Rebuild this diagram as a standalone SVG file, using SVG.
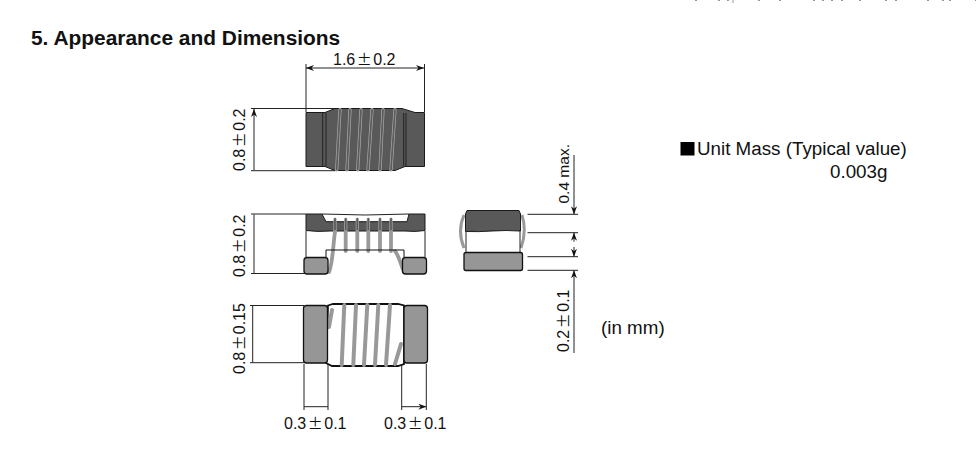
<svg xmlns="http://www.w3.org/2000/svg" width="976" height="461" viewBox="0 0 976 461">
<defs>
<marker id="ah" viewBox="0 0 8 6" refX="8" refY="3" markerWidth="8" markerHeight="6" orient="auto-start-reverse" markerUnits="userSpaceOnUse"><path d="M0 0L8 3L0 6L2.5 3Z" fill="#111"/></marker>
</defs>
<style>
text{font-family:"Liberation Sans",Arial,sans-serif;font-size:16px;fill:#111}
.pm{font-family:"Noto Sans CJK JP",sans-serif;font-size:15px}
.big{font-size:18.8px}
.d{fill:none;stroke:#222;stroke-width:1}
.a{fill:none;stroke:#222;stroke-width:1;marker-start:url(#ah);marker-end:url(#ah)}
.e{fill:none;stroke:#222;stroke-width:1;marker-end:url(#ah)}
.dark{fill:#595959;stroke:#1a1a1a;stroke-width:1}
.pad{fill:#969696;stroke:#111;stroke-width:1.3}
.w{fill:none;stroke:#999;stroke-width:3.8;stroke-linecap:round}
.wo{fill:none;stroke:#aaa;stroke-width:3.2;stroke-linecap:round}
.wi{fill:none;stroke:#5c5c5c;stroke-width:1.8;stroke-linecap:round}
</style>
<rect width="976" height="461" fill="#fff"/>
<path d="M695 .5h2M718 .5h2M727 .5h2M733 0v3M758 .5h2M779 .5h2M813 .5h2M822 .5h2M831 .5h2M841 .5h2M859 .5h2M885 .5h2M895 .5h2M927 .5h2M942 .5h2M949 .5h2M975 .5h1" stroke="#999" stroke-width="1" fill="none"/>
<text x="31" y="45" style="font-weight:700;font-size:20.9px">5. Appearance and Dimensions</text>
<g id="top-view">
<path class="dark" d="M306 112.500H325L335 108.500H402L415 112.500H424.500V166.500H405L395 170.500H335L325 166.500H306Z"/>
<path class="d" d="M322.700 113V166M326 113V166M403.700 113V166M406 113V166"/>
<path class="wo" d="M340 109.500L336.700 170M350 109.500L347 170M361 109.500L357.700 170M372 109.500L368 170M383 109.500L380 170M395 109.500L391 170"/>
<path class="wi" d="M340 110L336.700 169.500M350 110L347 169.500M361 110L357.700 169.500M372 110L368 169.500M383 110L380 169.500M395 110L391 169.500"/>
</g>
<g id="middle-view">
<path class="dark" d="M306 214H322L326 221.700H407L409 214H425V230.500Q415 232 405 231H330Q318 232 306 230.500Z"/>
<path class="d" d="M322 214Q365 216 409 214M306 231V257M425 231V257"/>
<path class="wo" d="M335 219V232M345.700 219V232M357.300 219V232M368.300 219V232M380 219V232M391 219V232"/>
<path class="wi" d="M335 219V232M345.700 219V232M357.300 219V232M368.300 219V232M380 219V232M391 219V232"/>
<path class="w" d="M345.700 232V251M357.300 232V251M368.300 232V251M380 232V251M391 232V251"/>
<path class="w" d="M335 232C333 245 333 262 329 272M395 251C399 256 401 265 404 272"/>
<path class="d" d="M326 257V250H404V257" style="stroke:#111"/>
<rect class="pad" x="304" y="257.500" width="24" height="16.500" rx="3"/>
<rect class="pad" x="402.500" y="257.500" width="24" height="16.500" rx="3"/>
</g>
<g id="bottom-view">
<path d="M328 305.500L333 304H398L404 305.500V364L398 366H332L326 363Z" fill="#fff" stroke="#111" stroke-width="1.800"/>
<path class="w" style="stroke-width:4" d="M344.300 305L341.700 365M356 305L353.300 365M367.300 305L364 365M378.300 305L375 365M390 305L386 365M332 310L329 327M401 344L395 364"/>
<rect class="pad" x="303.500" y="305.500" width="24" height="57.500" rx="3"/>
<rect class="pad" x="404" y="305.500" width="23.500" height="57.500" rx="3"/>
</g>
<g id="side-view">
<path fill="none" stroke="#999" stroke-width="3" d="M464 215Q457 231 464 248M522 215Q527 231 521 248"/>
<path class="dark" d="M465.500 214L467 210.500H519L520.500 214V231Q510 232 505 231T492 231T478 231.500T465.500 231.500Z"/>
<path d="M466 231.500Q478 232 492 231T520 231V252.500H466Z" fill="#fff" stroke="#222"/>
<rect class="pad" x="464" y="252.500" width="58.500" height="18" rx="2"/>
</g>
<g id="connectors">
<path class="a" d="M306 68H424"/>
<path class="d" d="M306 64V112M424.500 64V112"/>
<path class="d" d="M251 108.500H335M251 170.700H335M251 214H306M251 273.500H306M250 305.500H304M250 362.700H304"/>
<path class="a" d="M254 109V170M254 214.500V273M252.700 306V362.500M304 406.700H328M401.700 406.700H426.300"/>
<path class="d" d="M304 364V410M328 364V410M401.700 364V410M426.300 364V410"/>
<path class="d" d="M527.500 214.300H578M527.500 232.700H578M527.500 256.700H578M527.500 270.300H578"/>
<path class="e" d="M574 155V214.300"/><path class="e" d="M574 241.700V232.700"/><path class="e" d="M574 247V256.700"/><path class="e" d="M574 353V270.300"/>
</g>
<g id="labels">
<text x="333" y="65">1.6<tspan class="pm" dx="1.500">±</tspan><tspan dx="1.500">0.2</tspan></text>
<text transform="translate(245 171) rotate(-90)">0.8<tspan class="pm" dx="1.500">±</tspan><tspan dx="1.500">0.2</tspan></text>
<text transform="translate(245 277) rotate(-90)">0.8<tspan class="pm" dx="1.500">±</tspan><tspan dx="1.500">0.2</tspan></text>
<text transform="translate(245 374) rotate(-90)">0.8<tspan class="pm" dx="1.500">±</tspan><tspan dx="1">0.15</tspan></text>
<text x="284" y="429">0.3<tspan class="pm" dx="1.500">±</tspan><tspan dx="1.500">0.1</tspan></text>
<text x="384" y="429">0.3<tspan class="pm" dx="1.500">±</tspan><tspan dx="1.500">0.1</tspan></text>
<text transform="translate(569 203.500) rotate(-90)" style="font-size:15.500px">0.4 max.</text>
<text transform="translate(569 352) rotate(-90)">0.2<tspan class="pm" dx="1.500">±</tspan><tspan dx="1.500">0.1</tspan></text>
<text class="big" x="601" y="334">(in mm)</text>
<rect x="680.500" y="142" width="14" height="13.500" fill="#000"/>
<text class="big" x="697" y="155">Unit Mass (Typical value)</text>
<text class="big" x="830" y="178">0.003g</text>
</g>
</svg>
